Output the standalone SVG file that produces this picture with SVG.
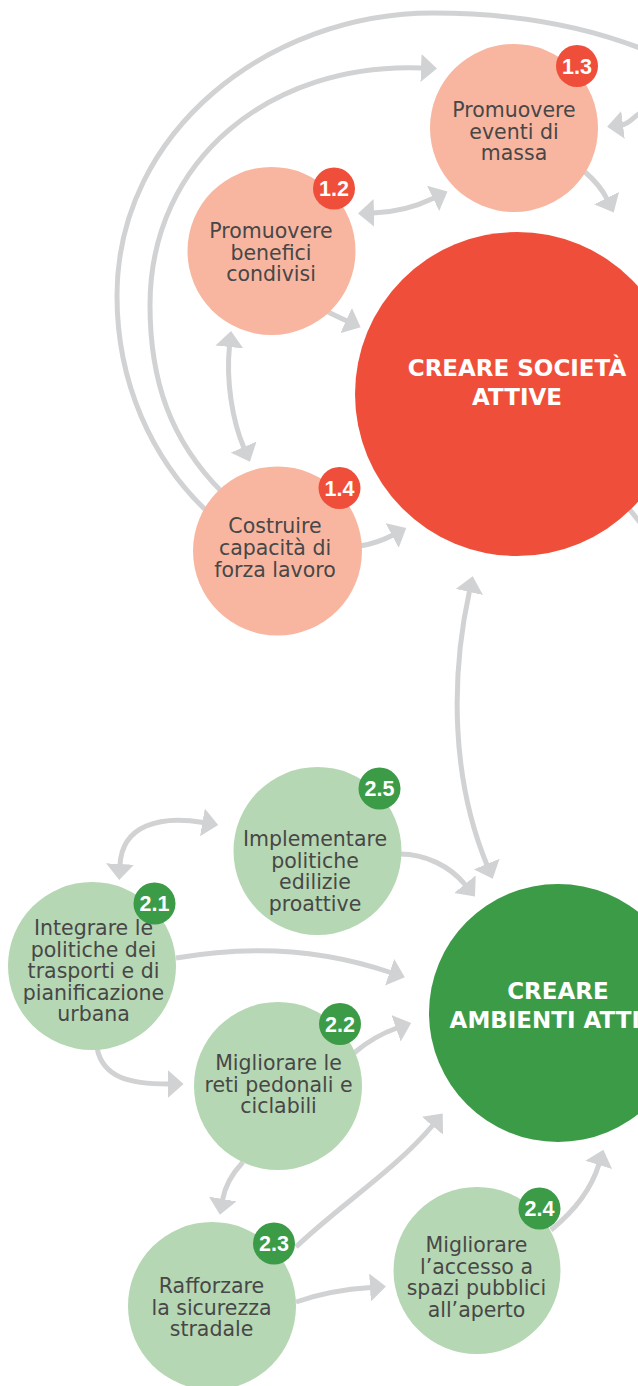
<svg xmlns="http://www.w3.org/2000/svg" width="638" height="1386" viewBox="0 0 638 1386">
<style>
.c{fill:none;stroke:#d1d2d4;stroke-width:5}
.lr{fill:#f8b6a0}
.lg{fill:#b6d7b3}
.br{fill:#ef4f3a}
.bg{fill:#3c9b47}
.t{font-family:"DejaVu Sans",sans-serif;font-size:20.5px;fill:#474747;text-anchor:middle}
.h{font-family:"DejaVu Sans",sans-serif;font-size:23px;font-weight:bold;fill:#fff;text-anchor:middle}
.b{font-family:"Liberation Sans",sans-serif;font-size:21.5px;font-weight:bold;fill:#fff;text-anchor:middle}
</style>
<defs>
<marker id="a" viewBox="0 0 16 28" refX="1" refY="14" markerWidth="16" markerHeight="28" markerUnits="userSpaceOnUse" orient="auto-start-reverse">
<path d="M0,0 L16,14 L0,28 z" fill="#d1d2d4"/>
</marker>
</defs>
<rect width="638" height="1386" fill="#fff"/>
<g id="connectors">
<path class="c" d="M 212 516 C 150 460, 117 380, 117 296 C 117 130, 270 13, 433 13 C 520 13, 590 28, 645 50"/>
<path class="c" d="M 222 492 C 170 440, 150 380, 150 305 C 150 160, 270 62, 422 68" marker-end="url(#a)"/>
<path class="c" d="M 373 213 Q 405 212 434 198" marker-start="url(#a)" marker-end="url(#a)"/>
<path class="c" d="M 585 172 Q 600 185 607 199" marker-end="url(#a)"/>
<path class="c" d="M 645 111 C 636 113, 630 124, 622 125" marker-end="url(#a)"/>
<path class="c" d="M 595 466 L 650 535"/>
<path class="c" d="M 322 309 Q 336 316 347 321" marker-end="url(#a)"/>
<path class="c" d="M 229.5 346 C 226 380, 232 420, 244 448" marker-start="url(#a)" marker-end="url(#a)"/>
<path class="c" d="M 360 546 Q 378 543 393 535" marker-end="url(#a)"/>
<path class="c" d="M 469.5 591 C 450 680, 452 780, 487 865" marker-start="url(#a)" marker-end="url(#a)"/>
<path class="c" d="M 400 854 C 425 854, 450 866, 465.5 885" marker-end="url(#a)"/>
<path class="c" d="M 120 865 C 122 825, 160 815, 203.4 822.5" marker-start="url(#a)" marker-end="url(#a)"/>
<path class="c" d="M 176 958 Q 290 938 390.6 972.5" marker-end="url(#a)"/>
<path class="c" d="M 354 1053 Q 374 1036 397 1028" marker-end="url(#a)"/>
<path class="c" d="M 97 1048 C 103 1078, 130 1084, 168.6 1084" marker-end="url(#a)"/>
<path class="c" d="M 243 1162 Q 226 1180 222.5 1200" marker-end="url(#a)"/>
<path class="c" d="M 296 1247 C 340 1205, 395 1170, 433 1125" marker-end="url(#a)"/>
<path class="c" d="M 296 1302 Q 330 1290 371 1287.5" marker-end="url(#a)"/>
<path class="c" d="M 551 1230 Q 588 1200 599 1164" marker-end="url(#a)"/>
</g>
<g id="n1">
<circle class="br" cx="517" cy="394" r="162"/>
<text class="h" x="517" y="376">CREARE SOCIETÀ</text>
<text class="h" x="517" y="405">ATTIVE</text>
</g>
<g id="n1-3">
<circle class="lr" cx="514" cy="128" r="84"/>
<text class="t" x="514" y="117">Promuovere</text>
<text class="t" x="514" y="138.5">eventi di</text>
<text class="t" x="514" y="160">massa</text>
<circle class="br" cx="577" cy="66" r="21"/>
<text class="b" x="577" y="73.5">1.3</text>
</g>
<g id="n1-2">
<circle class="lr" cx="271.5" cy="251" r="84"/>
<text class="t" x="271" y="238">Promuovere</text>
<text class="t" x="271" y="259.5">benefici</text>
<text class="t" x="271" y="281">condivisi</text>
<circle class="br" cx="334" cy="188.5" r="21"/>
<text class="b" x="334" y="196">1.2</text>
</g>
<g id="n1-4">
<circle class="lr" cx="277.5" cy="551" r="84.5"/>
<text class="t" x="275" y="533">Costruire</text>
<text class="t" x="275" y="555">capacità di</text>
<text class="t" x="275" y="577">forza lavoro</text>
<circle class="br" cx="339.5" cy="488" r="21"/>
<text class="b" x="339.5" y="495.5">1.4</text>
</g>
<g id="n2">
<circle class="bg" cx="558" cy="1013" r="129"/>
<text class="h" x="558" y="999">CREARE</text>
<text class="h" x="558" y="1028">AMBIENTI ATTIVI</text>
</g>
<g id="n2-5">
<circle class="lg" cx="317.5" cy="851" r="84"/>
<text class="t" x="315" y="846">Implementare</text>
<text class="t" x="315" y="867.5">politiche</text>
<text class="t" x="315" y="889">edilizie</text>
<text class="t" x="315" y="910.5">proattive</text>
<circle class="bg" cx="379.5" cy="788.5" r="21"/>
<text class="b" x="379.5" y="796">2.5</text>
</g>
<g id="n2-1">
<circle class="lg" cx="92" cy="966" r="84"/>
<text class="t" x="93.5" y="935">Integrare le</text>
<text class="t" x="93.5" y="956.5">politiche dei</text>
<text class="t" x="93.5" y="978">trasporti e di</text>
<text class="t" x="93.5" y="999.5">pianificazione</text>
<text class="t" x="93.5" y="1021">urbana</text>
<circle class="bg" cx="154.5" cy="903.5" r="21"/>
<text class="b" x="154.5" y="911">2.1</text>
</g>
<g id="n2-2">
<circle class="lg" cx="278" cy="1086" r="84"/>
<text class="t" x="278.5" y="1070">Migliorare le</text>
<text class="t" x="278.5" y="1091.5">reti pedonali e</text>
<text class="t" x="278.5" y="1113">ciclabili</text>
<circle class="bg" cx="340" cy="1024" r="21"/>
<text class="b" x="340" y="1031.5">2.2</text>
</g>
<g id="n2-3">
<circle class="lg" cx="212" cy="1306" r="84"/>
<text class="t" x="211.5" y="1293">Rafforzare</text>
<text class="t" x="211.5" y="1314.5">la sicurezza</text>
<text class="t" x="211.5" y="1336">stradale</text>
<circle class="bg" cx="274" cy="1243.5" r="21"/>
<text class="b" x="274" y="1251">2.3</text>
</g>
<g id="n2-4">
<circle class="lg" cx="477" cy="1270.5" r="83.5"/>
<text class="t" x="476.5" y="1252">Migliorare</text>
<text class="t" x="476.5" y="1273.5">l’accesso a</text>
<text class="t" x="476.5" y="1295">spazi pubblici</text>
<text class="t" x="476.5" y="1316.5">all’aperto</text>
<circle class="bg" cx="539.5" cy="1208.5" r="21"/>
<text class="b" x="539.5" y="1216">2.4</text>
</g>
</svg>
